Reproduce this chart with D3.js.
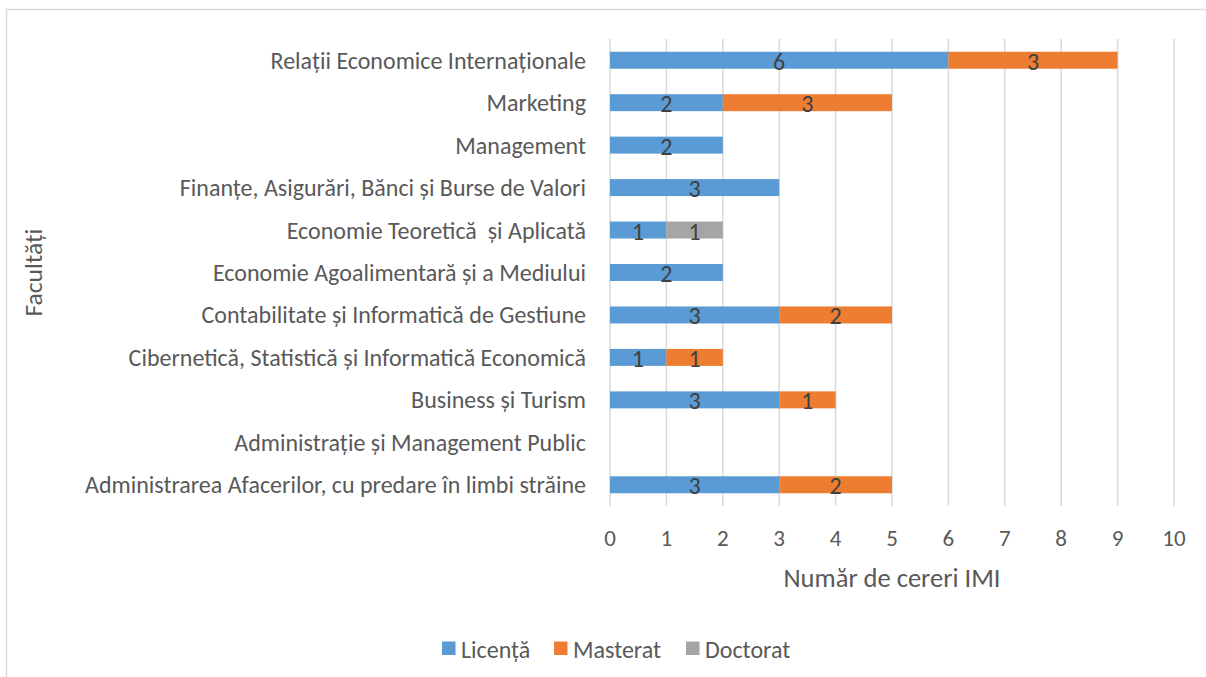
<!DOCTYPE html>
<html>
<head>
<meta charset="utf-8">
<script src="https://cdn.jsdelivr.net/npm/d3@7"></script>
<style>
  body { margin: 0; background: #fff; }
  text { font-family: Carlito, Calibri, Lato, sans-serif; white-space: pre; }
</style>
</head>
<body>
<svg id="chart" width="1206" height="677"></svg>
<script>
// Faculties, top to bottom as in the chart.
var faculties = [
  'Relații Economice Internaționale',
  'Marketing',
  'Management',
  'Finanțe, Asigurări, Bănci și Burse de Valori',
  'Economie Teoretică  și Aplicată',
  'Economie Agoalimentară și a Mediului',
  'Contabilitate și Informatică de Gestiune',
  'Cibernetică, Statistică și Informatică Economică',
  'Business și Turism',
  'Administrație și Management Public',
  'Administrarea Afacerilor, cu predare în limbi străine'
];

// Number of IMI requests per study cycle.
var licenta  = [6, 2, 2, 3, 1, 2, 3, 1, 3, 0, 3];
var masterat = [3, 3, 0, 0, 0, 0, 2, 1, 1, 0, 2];
var doctorat = [0, 0, 0, 0, 1, 0, 0, 0, 0, 0, 0];

var seriesNames = ['Licență', 'Masterat', 'Doctorat'];
var seriesColors = ['#5B9BD5', '#ED7D31', '#A5A5A5'];
var xTicks = [0, 1, 2, 3, 4, 5, 6, 7, 8, 9, 10];

var svg = d3.select('#chart');

// Outer chart frame (runs past the picture edge on the right and bottom).
svg.append('rect')
  .attr('x', 6.5).attr('y', 9.5)
  .attr('width', 1220).attr('height', 700)
  .attr('fill', 'none')
  .attr('stroke', '#d9d9d9')
  .attr('stroke-width', 1.5);

// Scales.
var x = d3.scaleLinear().domain([0, 10]).range([610, 1174]);
var y = d3.scaleBand().domain(faculties).range([39, 506])
  .paddingInner(0.6).paddingOuter(0.3);

// Stack the three series.
var rows = faculties.map(function(f, i) {
  return { name: f, 'Licență': licenta[i], 'Masterat': masterat[i], 'Doctorat': doctorat[i] };
});
var stacked = d3.stack().keys(seriesNames)(rows);

// Vertical gridlines.
svg.append('g')
  .selectAll('line')
  .data(xTicks)
  .join('line')
  .attr('x1', function(d) { return x(d); })
  .attr('x2', function(d) { return x(d); })
  .attr('y1', 39).attr('y2', 506)
  .attr('stroke', '#d9d9d9')
  .attr('stroke-width', 1.5);

// Bars.
var layers = svg.append('g')
  .selectAll('g')
  .data(stacked)
  .join('g')
  .attr('fill', function(d, i) { return seriesColors[i]; });

layers.selectAll('rect')
  .data(function(d) { return d.filter(function(s) { return s[1] - s[0] > 0; }); })
  .join('rect')
  .attr('x', function(s) { return x(s[0]); })
  .attr('y', function(s) { return y(s.data.name); })
  .attr('width', function(s) { return x(s[1]) - x(s[0]); })
  .attr('height', y.bandwidth());

// Data labels inside each segment.
layers.selectAll('text')
  .data(function(d) { return d.filter(function(s) { return s[1] - s[0] > 0; }); })
  .join('text')
  .attr('x', function(s) { return x((s[0] + s[1]) / 2); })
  .attr('y', function(s) { return y(s.data.name) + y.bandwidth() / 2 + 1; })
  .attr('text-anchor', 'middle')
  .attr('dominant-baseline', 'central')
  .attr('fill', '#404040')
  .attr('font-size', 24)
  .text(function(s) { return s[1] - s[0]; });

// Category labels.
svg.append('g')
  .selectAll('text')
  .data(faculties)
  .join('text')
  .attr('x', 586)
  .attr('y', function(d) { return y(d) + y.bandwidth() / 2; })
  .attr('text-anchor', 'end')
  .attr('dominant-baseline', 'central')
  .attr('fill', '#595959')
  .attr('font-size', 24)
  .text(function(d) { return d; });

// X tick labels.
svg.append('g')
  .selectAll('text')
  .data(xTicks)
  .join('text')
  .attr('x', function(d) { return x(d); })
  .attr('y', 538)
  .attr('text-anchor', 'middle')
  .attr('dominant-baseline', 'central')
  .attr('fill', '#595959')
  .attr('font-size', 23)
  .text(function(d) { return d; });

// Axis titles.
svg.append('text')
  .attr('x', (x(0) + x(10)) / 2)
  .attr('y', 578)
  .attr('text-anchor', 'middle')
  .attr('dominant-baseline', 'central')
  .attr('fill', '#595959')
  .attr('font-size', 26.5)
  .text('Număr de cereri IMI');

svg.append('text')
  .attr('transform', 'translate(33,' + ((39 + 506) / 2) + ') rotate(-90)')
  .attr('text-anchor', 'middle')
  .attr('dominant-baseline', 'central')
  .attr('fill', '#595959')
  .attr('font-size', 25.5)
  .text('Facultăți');

// Legend.
var legendX = [442, 554, 686];
var legend = svg.append('g')
  .selectAll('g')
  .data(seriesNames)
  .join('g')
  .attr('transform', function(d, i) { return 'translate(' + legendX[i] + ',648)'; });

legend.append('rect')
  .attr('x', 0).attr('y', -6.5)
  .attr('width', 13.5).attr('height', 13.5)
  .attr('fill', function(d, i) { return seriesColors[i]; });

legend.append('text')
  .attr('x', 19)
  .attr('y', 1)
  .attr('dominant-baseline', 'central')
  .attr('fill', '#595959')
  .attr('font-size', 24)
  .text(function(d) { return d; });
</script>
</body>
</html>
